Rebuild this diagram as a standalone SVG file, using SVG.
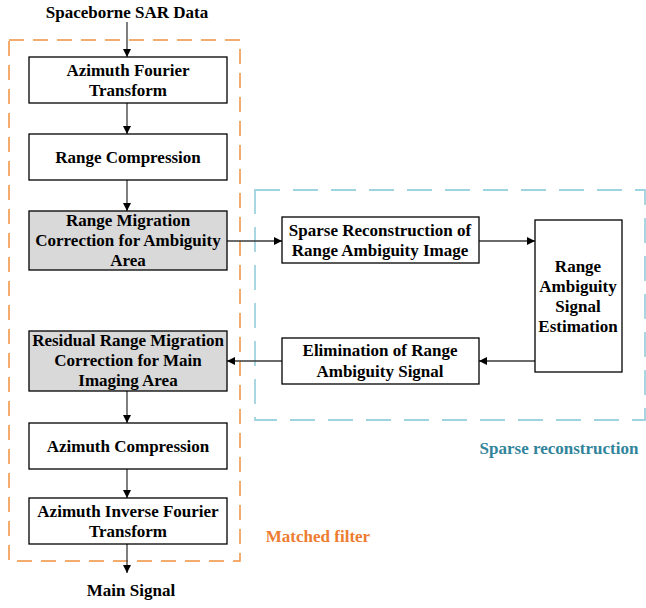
<svg xmlns="http://www.w3.org/2000/svg" width="646" height="608" viewBox="0 0 646 608">
  <defs>
    <marker id="arrow" viewBox="0 0 10 10" refX="10" refY="5" markerWidth="10" markerHeight="8" markerUnits="userSpaceOnUse" orient="auto">
      <path d="M0,0 L10,5 L0,10 z" fill="#000"/>
    </marker>
    <style>
      .box { fill: #fff; stroke: #000; stroke-width: 1.3; }
      .gray { fill: #d9d9d9; }
      .lbl { font-family: "Liberation Serif", "Times New Roman", serif; font-weight: bold; font-size: 17px; fill: #000; text-anchor: middle; }
      .edge { stroke: #3a3a3a; stroke-width: 1.3; fill: none; marker-end: url(#arrow); }
      .mf { fill: none; stroke: #f0913f; stroke-width: 1.5; stroke-dasharray: 15 9; }
      .sr { fill: none; stroke: #9fd3df; stroke-width: 1.8; stroke-dasharray: 25 13; }
    </style>
  </defs>

  <!-- grouping frames -->
  <g id="frames">
    <rect class="mf" x="9" y="40" width="231" height="521"/>
    <rect class="sr" x="255" y="190" width="390" height="230"/>
    <text class="lbl" x="318" y="542" style="fill:#ed7d31">Matched filter</text>
    <text class="lbl" x="559" y="454" style="fill:#31849b">Sparse reconstruction</text>
  </g>

  <!-- connectors -->
  <g id="connectors">
    <line class="edge" x1="127" y1="22" x2="127" y2="57"/>
    <line class="edge" x1="127" y1="103" x2="127" y2="134"/>
    <line class="edge" x1="127" y1="180" x2="127" y2="211"/>
    <line class="edge" x1="227" y1="241" x2="282" y2="241"/>
    <line class="edge" x1="479" y1="241" x2="535" y2="241"/>
    <line class="edge" x1="535" y1="361" x2="479" y2="361"/>
    <line class="edge" x1="282" y1="361" x2="227" y2="361"/>
    <line class="edge" x1="127" y1="391" x2="127" y2="423"/>
    <line class="edge" x1="127" y1="469" x2="127" y2="498"/>
    <line class="edge" x1="127" y1="544" x2="127" y2="573"/>
  </g>

  <g id="input">
    <text class="lbl" x="127" y="18">Spaceborne SAR Data</text>
  </g>

  <g id="azimuth-ft">
    <rect class="box" x="29" y="57" width="198" height="46"/>
    <text class="lbl" x="128" y="76">Azimuth Fourier</text>
    <text class="lbl" x="128" y="96">Transform</text>
  </g>

  <g id="range-compression">
    <rect class="box" x="29" y="134" width="198" height="46"/>
    <text class="lbl" x="128" y="163">Range Compression</text>
  </g>

  <g id="rmc-ambiguity">
    <rect class="box gray" x="29" y="211" width="198" height="59"/>
    <text class="lbl" x="128" y="226">Range Migration</text>
    <text class="lbl" x="128" y="246">Correction for Ambiguity</text>
    <text class="lbl" x="128" y="266">Area</text>
  </g>

  <g id="sparse-reconstruction">
    <rect class="box" x="282" y="217" width="197" height="46"/>
    <text class="lbl" x="380" y="236">Sparse Reconstruction of</text>
    <text class="lbl" x="380" y="256">Range Ambiguity Image</text>
  </g>

  <g id="ambiguity-estimation">
    <rect class="box" x="535" y="220" width="87" height="152"/>
    <text class="lbl" x="578" y="272">Range</text>
    <text class="lbl" x="578" y="292">Ambiguity</text>
    <text class="lbl" x="578" y="312">Signal</text>
    <text class="lbl" x="578" y="332">Estimation</text>
  </g>

  <g id="ambiguity-elimination">
    <rect class="box" x="282" y="338" width="197" height="46"/>
    <text class="lbl" x="380" y="356">Elimination of Range</text>
    <text class="lbl" x="380" y="377">Ambiguity Signal</text>
  </g>

  <g id="residual-rmc">
    <rect class="box gray" x="29" y="331" width="198" height="60"/>
    <text class="lbl" x="128" y="346">Residual Range Migration</text>
    <text class="lbl" x="128" y="366">Correction for Main</text>
    <text class="lbl" x="128" y="386">Imaging Area</text>
  </g>

  <g id="azimuth-compression">
    <rect class="box" x="29" y="423" width="198" height="46"/>
    <text class="lbl" x="128" y="452">Azimuth Compression</text>
  </g>

  <g id="azimuth-ift">
    <rect class="box" x="29" y="498" width="198" height="46"/>
    <text class="lbl" x="128" y="517">Azimuth Inverse Fourier</text>
    <text class="lbl" x="128" y="537">Transform</text>
  </g>

  <g id="output">
    <text class="lbl" x="131" y="596">Main Signal</text>
  </g>
</svg>
